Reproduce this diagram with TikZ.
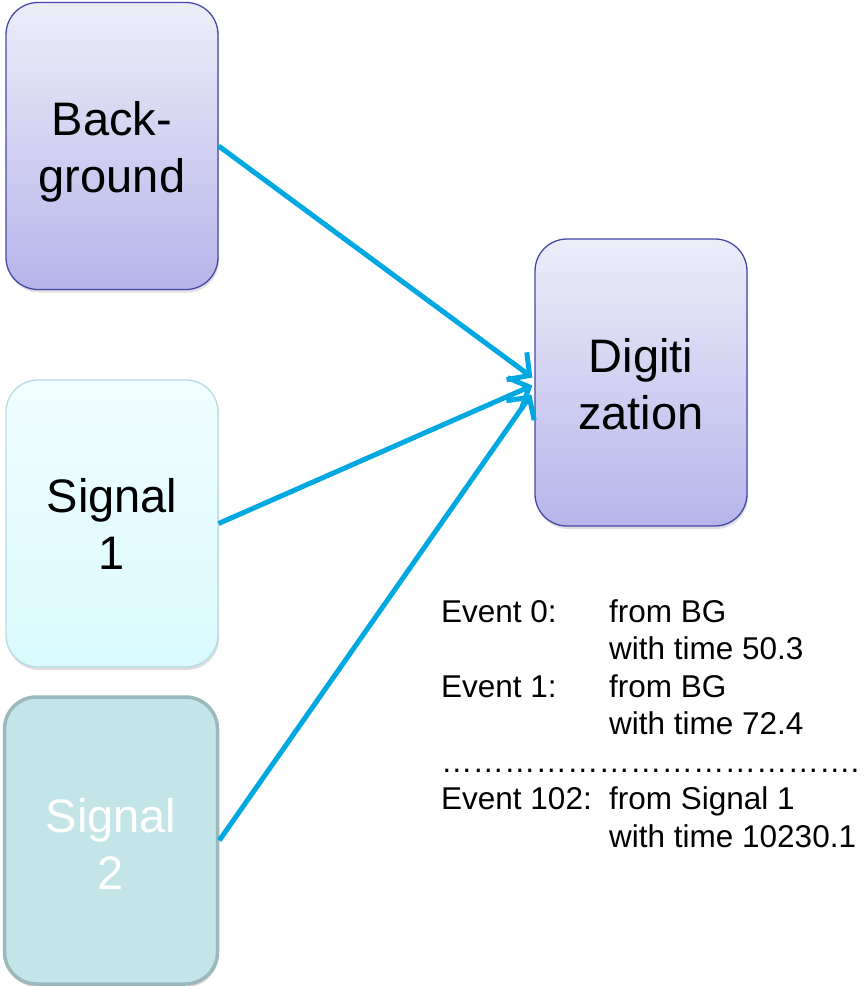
\documentclass[tikz,border=0pt]{standalone}
\usepackage{fontspec}
\setmainfont{Liberation Sans}
\usetikzlibrary{arrows.meta,calc,shadows}

\definecolor{boxtop}{HTML}{EDEDF9}
\definecolor{boxbot}{HTML}{B6B5EA}
\definecolor{boxline}{HTML}{4449A8}
\definecolor{sigtop}{HTML}{F0FEFF}
\definecolor{sigbot}{HTML}{DAFAFE}
\definecolor{sigline}{HTML}{B4DCE2}
\definecolor{sigtwo}{HTML}{C4E5E8}
\definecolor{sigtwoline}{HTML}{9BB8BC}
\definecolor{flow}{HTML}{00A8E2}

% lower a line of text without changing the box size used for centring
\newcommand{\lowerby}[2]{\raisebox{-#1}[\height][\depth]{#2}}
% three ellipsis characters in a row
\newcommand{\ellthree}{\char"2026\char"2026\char"2026}

\tikzset{
  block/.style={rectangle, rounded corners=32pt, minimum width=212pt,
    minimum height=287pt, align=center, inner sep=0pt,
    font=\fontsize{47}{57}\selectfont,
    drop shadow={opacity=0.25, shadow xshift=1pt, shadow yshift=-3pt}},
  violetbox/.style={block, top color=boxtop, bottom color=boxbot, draw=boxline, line width=1.3pt},
  cyanbox/.style={block, top color=sigtop, bottom color=sigbot, draw=sigline, line width=1.3pt},
  tealbox/.style={block, fill=sigtwo, draw=sigtwoline, line width=3.5pt, text=white},
  feed/.style={draw=flow, line width=5pt, -{Straight Barb[length=16pt, width=34pt, line width=5pt]}},
  logline/.style={anchor=base west, inner sep=0pt, font=\fontsize{31.5}{38}\selectfont},
}

\begin{document}
\begin{tikzpicture}[x=1pt, y=-1pt]
  \useasboundingbox (0,0) rectangle (866,986);

  % source and target blocks
  \node[violetbox] (bg)  at (112,146)   {\lowerby{6pt}{Back-}\\\lowerby{6pt}{ground}};
  \node[cyanbox]   (s1)  at (112,523.5) {Signal\\1};
  \node[tealbox, minimum width=213pt] (s2) at (111,840.5) {\lowerby{3pt}{Signal}\\\lowerby{3pt}{2}};
  \node[violetbox] (dig) at (641,382.5) {\lowerby{2pt}{Digiti}\\\lowerby{2pt}{zation}};

  % arrow tips meeting at the left side of the digitization block
  \coordinate (tipA) at ($(dig.west)+(-2,-5)$);
  \coordinate (tipB) at ($(dig.west)+(-2,3)$);
  \coordinate (tipC) at ($(dig.west)+(-3,12)$);

  \draw[feed] (bg.east) -- (tipA);
  \draw[feed] (s1.east) -- (tipB);
  \draw[feed] (s2.east) -- (tipC);

  % event log
  \node[logline] (e0)  at (441,622)   {Event 0:};
  \node[logline] (e0a) at (609,622)   {from BG};
  \node[logline] (e0b) at (609,659.5) {with time 50.3};
  \node[logline] (e1)  at (441,697)   {Event 1:};
  \node[logline] (e1a) at (609,697)   {from BG};
  \node[logline] (e1b) at (609,734.5) {with time 72.4};
  \node[logline] (dots) at (441,772)  {\ellthree\ellthree\ellthree\ellthree\char"2026.};
  \node[logline] (e2)  at (441,809.5) {Event 102:};
  \node[logline] (e2a) at (609,809.5) {from Signal 1};
  \node[logline] (e2b) at (609,847)   {with time 10230.1};
\end{tikzpicture}
\end{document}
